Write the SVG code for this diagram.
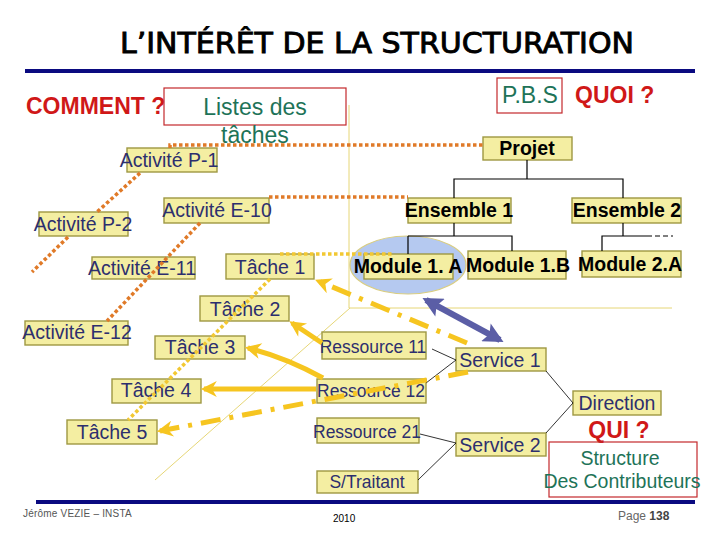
<svg xmlns="http://www.w3.org/2000/svg" width="720" height="540" viewBox="0 0 720 540">
<defs>
<style>
.bx{fill:#f4eea2;stroke:#9e9842;stroke-width:1.4}
.t{font-family:"Liberation Sans",Arial,sans-serif;fill:#2d2f6e;text-anchor:middle;font-size:19.5px}
.ts{font-size:17.5px}
.tb{font-family:"Liberation Sans",Arial,sans-serif;font-weight:bold;fill:#000;text-anchor:middle;font-size:19.5px}
.red{font-family:"Liberation Sans",Arial,sans-serif;font-weight:bold;fill:#d01818;font-size:23px}
.grn{font-family:"Liberation Sans",Arial,sans-serif;fill:#1e7358;text-anchor:middle}
.rbox{fill:none;stroke:#c4282c;stroke-width:1.2}
.org{fill:none;stroke:#e07a28;stroke-width:3.5;stroke-dasharray:3.5 2.5}
.yd{fill:none;stroke:#f2c832;stroke-width:3.5;stroke-dasharray:3.5 2.5}
.thin{fill:none;stroke:#e6d676;stroke-width:1}
.blk{fill:none;stroke:#000;stroke-width:1.2}
.bln{fill:none;stroke:#000;stroke-width:0.8}
.ya{fill:none;stroke:#f6c520;stroke-width:5;marker-end:url(#ah)}
.yda{fill:none;stroke:#f6c520;stroke-width:5;stroke-dasharray:20 9 4 9;marker-end:url(#ah)}
</style>
<marker id="ah" viewBox="0 0 10 10" refX="8" refY="5" markerUnits="userSpaceOnUse" markerWidth="18" markerHeight="16" orient="auto">
<path d="M0,0 L10,5 L0,10 L3,5 z" fill="#f6c520"/>
</marker>
<marker id="bh" viewBox="0 0 10 10" refX="8" refY="5" markerUnits="userSpaceOnUse" markerWidth="22" markerHeight="20" orient="auto-start-reverse">
<path d="M0,0 L10,5 L0,10 L2,5 z" fill="#5b5ea6"/>
</marker>
</defs>
<rect width="720" height="540" fill="#fff"/>

<g id="header">
<text x="377" y="53" text-anchor="middle" font-family="DejaVu Sans, sans-serif" font-size="28" textLength="514" lengthAdjust="spacingAndGlyphs" fill="#000" stroke="#000" stroke-width="0.9">L’INTÉRÊT DE LA STRUCTURATION</text>
<rect x="25" y="69" width="670" height="4" fill="#0a0a80"/>
<rect x="36" y="500" width="659" height="4" fill="#0a0a80"/>
<text x="23" y="517" font-family="Liberation Sans, Arial, sans-serif" font-size="10" fill="#555" letter-spacing="0.2">Jérôme VEZIE – INSTA</text>
<text x="333" y="522" font-family="Liberation Sans, Arial, sans-serif" font-size="10" fill="#000">2010</text>
<text x="618" y="520" font-family="Liberation Sans, Arial, sans-serif" font-size="12" fill="#666">Page <tspan font-weight="bold" fill="#444">138</tspan></text>
<text class="red" x="26" y="114">COMMENT ?</text>
<text class="red" x="575" y="103">QUOI ?</text>
<text class="red" x="619" y="438" text-anchor="middle">QUI ?</text>
</g>

<g id="axes">
<path class="thin" d="M349,105 V308 H672 M350,308 L155,480"/>
</g>

<g id="listes"><rect class="rbox" x="164" y="88" width="182" height="37"/><text class="grn" x="255" y="115" font-size="23">Listes des</text><text class="grn" x="255" y="143" font-size="23">tâches</text></g>
<g id="pbs"><rect class="rbox" x="497" y="78" width="65" height="35"/><text class="grn" x="530" y="103" font-size="23">P.B.S</text></g>
<g id="structure"><rect class="rbox" x="549" y="442" width="148" height="55"/><text class="grn" x="620" y="465" font-size="19.5">Structure</text><text class="grn" x="622" y="488" font-size="19.5">Des Contributeurs</text></g>

<g id="act-p1"><rect class="bx" x="127" y="148" width="90" height="24"/><text class="t" x="169" y="167">Activité P-1</text></g>
<g id="act-p2"><rect class="bx" x="39" y="212" width="89" height="24"/><text class="t" x="83" y="231">Activité P-2</text></g>
<g id="act-e10"><rect class="bx" x="164" y="198" width="105" height="25"/><text class="t" x="217" y="217">Activité E-10</text></g>
<g id="act-e11"><rect class="bx" x="92" y="257" width="103" height="22"/><text class="t" x="142" y="275">Activité E-11</text></g>
<g id="act-e12"><rect class="bx" x="25" y="321" width="103" height="24"/><text class="t" x="77" y="339">Activité E-12</text></g>

<g id="tache1"><rect class="bx" x="226" y="254" width="88" height="25"/><text class="t" x="270" y="274">Tâche 1</text></g>
<g id="tache2"><rect class="bx" x="200" y="296" width="89" height="25"/><text class="t" x="245" y="316">Tâche 2</text></g>
<g id="tache3"><rect class="bx" x="155" y="336" width="90" height="23"/><text class="t" x="200" y="354">Tâche 3</text></g>
<g id="tache4"><rect class="bx" x="112" y="379" width="89" height="24"/><text class="t" x="156" y="397">Tâche 4</text></g>
<g id="tache5"><rect class="bx" x="67" y="420" width="90" height="24"/><text class="t" x="112" y="439">Tâche 5</text></g>

<g id="projet"><rect class="bx" x="483" y="137" width="89" height="23"/><text class="tb" x="527" y="155">Projet</text></g>
<g id="ensemble1"><rect class="bx" x="408" y="198" width="103" height="25"/><text class="tb" x="459" y="217">Ensemble 1</text></g>
<g id="ensemble2"><rect class="bx" x="572" y="198" width="109" height="25"/><text class="tb" x="627" y="217">Ensemble 2</text></g>
<g id="module1a"><ellipse cx="408" cy="265" rx="58" ry="29" fill="#b5c9f0" stroke="#d9cd80" stroke-width="1.2"/><rect class="bx" x="364" y="254" width="89" height="25"/><text class="tb" x="408" y="273">Module 1. A</text></g>
<g id="module1b"><rect class="bx" x="468" y="251" width="98" height="28"/><text class="tb" x="518" y="272">Module 1.B</text></g>
<g id="module2a"><rect class="bx" x="582" y="251" width="99" height="26"/><text class="tb" x="630" y="271">Module 2.A</text></g>

<g id="ressource11"><rect class="bx" x="322" y="332" width="104" height="27"/><text class="t ts" x="373" y="353">Ressource 11</text></g>
<g id="ressource12"><rect class="bx" x="317" y="379" width="109" height="24"/><text class="t ts" x="371" y="397">Ressource 12</text></g>
<g id="ressource21"><rect class="bx" x="317" y="418" width="102" height="25"/><text class="t ts" x="367" y="438">Ressource 21</text></g>
<g id="straitant"><rect class="bx" x="317" y="471" width="101" height="22"/><text class="t ts" x="367" y="488">S/Traitant</text></g>
<g id="service1"><rect class="bx" x="456" y="348" width="90" height="23"/><text class="t" x="500" y="367">Service 1</text></g>
<g id="service2"><rect class="bx" x="456" y="433" width="90" height="23"/><text class="t" x="500" y="452">Service 2</text></g>
<g id="direction"><rect class="bx" x="573" y="391" width="88" height="24"/><text class="t" x="617" y="410">Direction</text></g>

<g id="connectors">
<path class="blk" d="M527,160 V179 M454,198 V179 H623 V198 M454,223 V236 M408,236 V254 M408,236 H512 V251 M623,223 V236 M602,251 V236 H647"/>
<path class="blk" d="M647,236 H673" stroke-dasharray="5 3"/>
<path class="bln" d="M432,349 L456,360 L426,383 M420,434 L456,443 L418,480 M546,371 L573,403 L546,433"/>
<path class="org" d="M170,148 V145 H483"/>
<path class="org" d="M269,197 H408"/>
<path class="org" d="M140,173 L97,212 M68,237 L32,272"/>
<path class="org" d="M200,223 L107,321"/>
<path class="yd" d="M280,254 H393"/>
<path class="yd" d="M270,279 L128,420"/>
<path class="ya" d="M322,343 L292,323"/>
<path class="ya" d="M323,378 Q285,357 248,348"/>
<path class="ya" d="M316,389 H204"/>
<path class="yda" d="M467,343 L318,281"/>
<path class="yda" d="M468,372 L160,431"/>
<path d="M426,300 L500,340" fill="none" stroke="#5b5ea6" stroke-width="6" marker-start="url(#bh)" marker-end="url(#bh)"/>
</g>
</svg>
